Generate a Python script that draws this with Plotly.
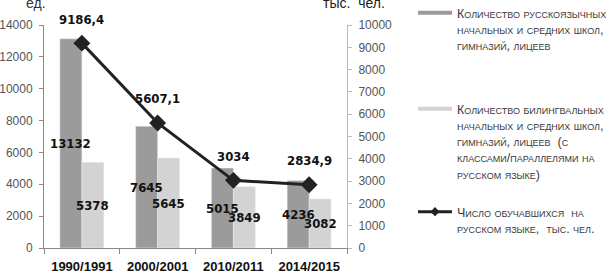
import plotly.graph_objects as go

categories = ["1990/1991", "2000/2001", "2010/2011", "2014/2015"]
russian_schools = [13132, 7645, 5015, 4236]
bilingual_schools = [5378, 5645, 3849, 3082]
students = [9186.4, 5607.1, 3034, 2834.9]
student_labels = ["9186,4", "5607,1", "3034", "2834,9"]

name1 = "Количество русскоязычных<br>начальных и средних школ,<br>гимназий, лицеев"
name2 = ("Количество билингвальных<br>начальных и средних школ,<br>гимназий, лицеев  (с<br>"
         "классами/параллелями на<br>русском языке)")
name3 = "Число обучавшихся  на<br>русском языке,  тыс. чел."

DARK = "#9b9b9b"
LIGHT = "#d3d3d3"
LABEL_FONT = dict(family="DejaVu Sans Condensed, Liberation Sans", size=13, color="#111111",
                  weight="bold")

fig = go.Figure()
fig.add_trace(go.Bar(x=categories, y=russian_schools, marker_color=DARK, showlegend=False))
fig.add_trace(go.Bar(x=categories, y=bilingual_schools, marker_color=LIGHT, showlegend=False))
fig.add_trace(go.Scatter(x=categories, y=students, yaxis="y2", mode="lines+markers",
                         line=dict(color="#222222", width=3),
                         marker=dict(symbol="diamond", size=13, color="#222222"),
                         showlegend=False))

# legend-only entries
fig.add_trace(go.Scatter(x=[None], y=[None], mode="lines", name=name1,
                         line=dict(color=DARK, width=4), legend="legend"))
fig.add_trace(go.Scatter(x=[None], y=[None], mode="lines", name=name2,
                         line=dict(color=LIGHT, width=4), legend="legend2"))
fig.add_trace(go.Scatter(x=[None], y=[None], mode="lines+markers", name=name3,
                         line=dict(color="#222222", width=3),
                         marker=dict(symbol="diamond", size=7, color="#222222"),
                         legend="legend3"))

# bar value labels (drawn on top of all bars), centred on each bar's middle
for cat, v1, v2 in zip(categories, russian_schools, bilingual_schools):
    fig.add_annotation(x=cat, y=v1 / 2, text=str(v1), showarrow=False, xshift=-11,
                       xanchor="center", yanchor="middle", font=LABEL_FONT)
    fig.add_annotation(x=cat, y=v2 / 2, text=str(v2), showarrow=False, xshift=11,
                       xanchor="center", yanchor="middle", font=LABEL_FONT)

for cat, val, lab in zip(categories, students, student_labels):
    fig.add_annotation(x=cat, y=val, yref="y2", text=lab, showarrow=False,
                       xanchor="center", yanchor="middle", yshift=24, font=LABEL_FONT)

L, R, T, B = 44, 264, 25, 25
W, H = 611, 273
pw, ph = W - L - R, H - T - B


def px(xp):
    return (xp - L) / pw


def py(yp):
    return (H - B - yp) / ph


legend_font = dict(family="Liberation Sans", size=12.5, color="#3a3a3a", variant="small-caps")
common = dict(xanchor="left", yanchor="top", valign="top", font=legend_font,
              bgcolor="rgba(0,0,0,0)", itemwidth=34, tracegroupgap=0)
fig.update_layout(
    legend=dict(x=px(413), y=py(-2), **common),
    legend2=dict(x=px(413), y=py(94), **common),
    legend3=dict(x=px(413), y=py(197), **common),
)

fig.add_annotation(xref="paper", yref="paper", x=px(24), y=py(13), xanchor="left", yanchor="bottom",
                   text="ед.", showarrow=False,
                   font=dict(family="Liberation Sans", size=14, color="#333"))
fig.add_annotation(xref="paper", yref="paper", x=px(321), y=py(13), xanchor="left", yanchor="bottom",
                   text="тыс.  чел.", showarrow=False,
                   font=dict(family="Liberation Sans", size=14, color="#222"))

axis_font = dict(family="Liberation Sans", size=12, color="#555555")
fig.update_layout(
    width=W, height=H,
    margin=dict(l=L, r=R, t=T, b=B, autoexpand=False),
    plot_bgcolor="white", paper_bgcolor="white",
    barmode="group", bargap=0.42, bargroupgap=0,
    xaxis=dict(type="category", showline=True, linecolor="#888888", linewidth=1,
               ticks="outside", tickson="boundaries", ticklen=5, tickcolor="#888888",
               tickfont=dict(family="Liberation Sans", size=13, color="#111111", weight="bold"),
               ticklabelstandoff=6, showgrid=False),
    yaxis=dict(range=[0, 14000], dtick=2000, tickformat="d", showline=True, linecolor="#888888",
               ticks="outside", ticklen=4, tickcolor="#888888", tickfont=axis_font,
               ticklabelstandoff=4, showgrid=False, zeroline=False),
    yaxis2=dict(range=[0, 10000], dtick=1000, tickformat="d", overlaying="y", side="right",
                showline=True, linecolor="#bbbbbb", ticks="outside", ticklen=4,
                tickcolor="#bbbbbb", tickfont=axis_font, ticklabelstandoff=4,
                showgrid=False, zeroline=False),
)

fig.write_html("out.html", config={"displayModeBar": False},
               post_script="document.body.style.margin='0px';")
